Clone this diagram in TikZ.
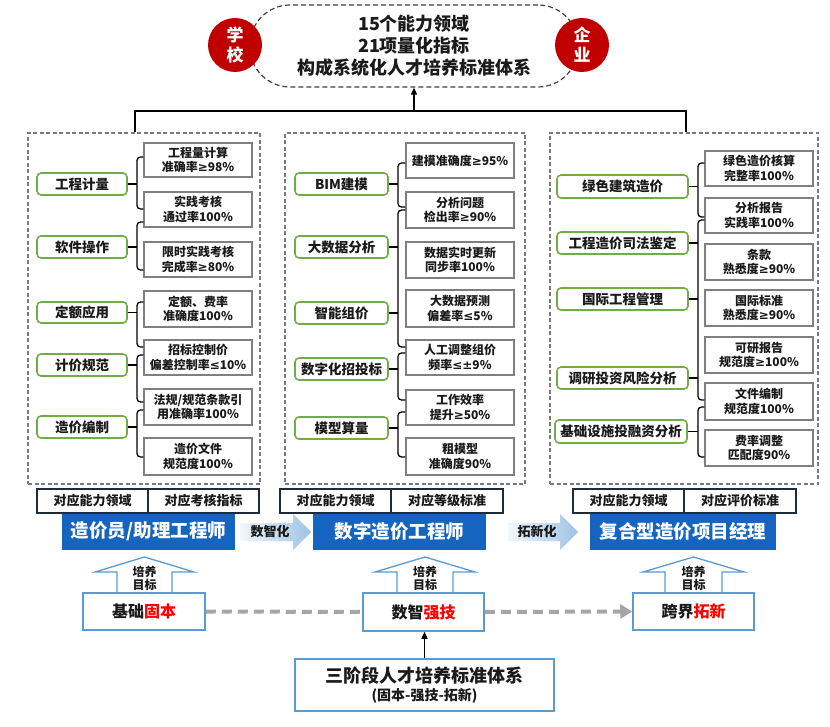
\documentclass[tikz,border=0pt]{standalone}
\usepackage{fontspec}
\setmainfont{Noto Sans CJK SC}
\newfontfamily\symf{DejaVu Sans}
\usetikzlibrary{arrows.meta}
\definecolor{grn}{HTML}{70AD47}
\definecolor{kgray}{HTML}{7F7F7F}
\definecolor{pgray}{HTML}{7A7A7A}
\definecolor{txt}{HTML}{1A1A1A}
\definecolor{navy}{HTML}{1F2A3A}
\definecolor{bblue}{RGB}{21,101,192}
\definecolor{lblue}{HTML}{5B9BD5}
\definecolor{darkred}{HTML}{C00000}
\definecolor{dgray}{HTML}{A6A6A6}
\definecolor{pale}{HTML}{F2F7FC}
\definecolor{sky}{HTML}{9DC3E6}
\newcommand\myfs[2]{\fontsize{#1}{#2}\selectfont}
\newcommand\mkGE{{\symf ≥}}
\newcommand\mkLE{{\symf ≤}}
\newcommand\mkPM{{\symf ±}}
\newcommand\mkbox[7]{\node[#1,minimum width=#5-#3,minimum height=#6-#4] (#2) at ({(#3+#5)/2},{(#4+#6)/2}) {#7};}
\begin{document}
\begin{tikzpicture}[x=1pt,y=-1pt,
  gbox/.style={draw=grn,line width=1.6pt,rounded corners=4pt,fill=white,text=txt,font=\bfseries\myfs{13.5}{16},inner sep=0pt},
  kbox/.style={draw=kgray,line width=1.5pt,fill=white,text=txt,font=\bfseries\myfs{12}{14.5},align=center,inner sep=0pt},
  panel/.style={draw=pgray,line width=1.1pt,dash pattern=on 4pt off 2.5pt},
  br/.style={line width=1.3pt,rounded corners=3.5pt},
  tbox/.style={draw=navy,line width=1.2pt,fill=white,text=txt,font=\bfseries\myfs{13}{15},inner sep=0pt},
  banner/.style={fill=bblue,text=white,font=\bfseries\myfs{18.5}{22},inner sep=0pt},
  sbox/.style={draw=lblue,line width=1.5pt,fill=white,text=txt,font=\bfseries\myfs{16}{19},inner sep=0pt},
  uparrow/.style={draw=lblue,line width=1.3pt,fill=white},
  goallbl/.style={text=txt,font=\bfseries\myfs{12}{13},align=center,inner sep=0pt},
  circ/.style={circle,fill=darkred,text=white,font=\bfseries\myfs{17}{20},align=center,minimum size=54pt,inner sep=0pt},
  gdash/.style={draw=dgray,line width=4pt,dash pattern=on 10pt off 6pt},
  blk/.style={line width=1.3pt,-{Triangle[length=7pt,width=6pt]}}
]
\useasboundingbox (0,0) rectangle (830,727);

% ---- top goal ----
\mkbox{draw=black!75,line width=1.2pt,dash pattern=on 5pt off 3pt,rounded corners=40pt,text=txt,font=\bfseries\myfs{18}{22},align=center,inner sep=0pt}{goal}{250}{5}{578}{87}{15个能力领域\\21项量化指标\\构成系统化人才培养标准体系}
\node[circ] (school) at (235,45) {学\\校};
\node[circ] (firm) at (582,45) {企\\业};

% ---- panels ----
\mkbox{panel}{pL}{28}{133}{260}{484}{}
\mkbox{panel}{pM}{285}{133}{525}{484}{}
\mkbox{panel}{pR}{550}{133}{818}{484}{}

\coordinate (hub) at (goal.south |- 0,111);
\draw[line width=1.3pt] (135,0 |- pL.north) -- (135,111) -- (686,111) -- (686,0 |- pR.north);
\draw[blk] (hub) -- (goal.south);

% ---- left panel ----
\mkbox{gbox}{e1}{37}{173}{127}{195}{工程计量}
\mkbox{gbox}{e2}{37}{236}{127}{258}{软件操作}
\mkbox{gbox}{e3}{37}{302}{127}{323}{定额应用}
\mkbox{gbox}{e4}{37}{354}{127}{376}{计价规范}
\mkbox{gbox}{e5}{37}{416}{127}{438}{造价编制}
\mkbox{kbox}{a1}{144}{143}{252}{177}{工程量计算\\准确率\mkGE98\%}
\mkbox{kbox}{a2}{144}{192}{252}{227}{实践考核\\通过率100\%}
\mkbox{kbox}{a3}{144}{242}{252}{277}{限时实践考核\\完成率\mkGE80\%}
\mkbox{kbox}{a4}{144}{291}{252}{327}{定额、费率\\准确度100\%}
\mkbox{kbox}{a5}{144}{340}{252}{375}{招标控制价\\偏差控制率\mkLE10\%}
\mkbox{kbox}{a6}{144}{389}{252}{425}{法规/规范条款引\\用准确率100\%}
\mkbox{kbox}{a7}{144}{438}{252}{475}{造价文件\\规范度100\%}
\draw[br] (a1.west |- 0,157) -- (137,157) -- (137,209) -- (a2.west |- 0,209);
\draw[br] (e1.east) -- (137,0 |- e1.east);
\draw[br] (a2.west |- 0,222) -- (137,222) -- (137,270) -- (a3.west |- 0,270);
\draw[br] (e2.east) -- (137,0 |- e2.east);
\draw[br] (a4.west |- 0,302) -- (137,302) -- (137,347) -- (a5.west |- 0,347);
\draw[br] (e3.east) -- (137,0 |- e3.east);
\draw[br] (a5.west |- 0,355) -- (137,355) -- (137,402) -- (a6.west |- 0,402);
\draw[br] (e4.east) -- (137,0 |- e4.east);
\draw[br] (a6.west |- 0,410) -- (137,410) -- (137,457) -- (a7.west |- 0,457);
\draw[br] (e5.east) -- (137,0 |- e5.east);

% ---- middle panel ----
\mkbox{gbox}{f1}{295}{173}{388}{195}{BIM建模}
\mkbox{gbox}{f2}{295}{236}{388}{258}{大数据分析}
\mkbox{gbox}{f3}{295}{302}{388}{324}{智能组价}
\mkbox{gbox}{f4}{295}{358}{388}{380}{数字化招投标}
\mkbox{gbox}{f5}{295}{417}{388}{439}{模型算量}
\mkbox{kbox}{b1}{406}{143}{514}{178}{建模准确度\mkGE95\%}
\mkbox{kbox}{b2}{406}{192}{514}{228}{分析问题\\检出率\mkGE90\%}
\mkbox{kbox}{b3}{406}{242}{514}{278}{数据实时更新\\同步率100\%}
\mkbox{kbox}{b4}{406}{290}{514}{327}{大数据预测\\偏差率\mkLE5\%}
\mkbox{kbox}{b5}{406}{340}{514}{375}{人工调整组价\\频率\mkLE\mkPM9\%}
\mkbox{kbox}{b6}{406}{390}{514}{425}{工作效率\\提升\mkGE50\%}
\mkbox{kbox}{b7}{406}{438}{514}{475}{粗模型\\准确度90\%}
\draw[br] (b1.west |- 0,163) -- (398,163) -- (398,207) -- (b2.west |- 0,207);
\draw[br] (f1.east) -- (398,0 |- f1.east);
\draw[br] (b2.west |- 0,210) -- (398,210) -- (398,347) -- (b5.west |- 0,347);
\draw[br] (f2.east) -- (398,0 |- f2.east);
\draw[br] (f3.east) -- (398,0 |- f3.east);
\draw[br] (b5.west |- 0,353) -- (398,353) -- (398,400) -- (b6.west |- 0,400);
\draw[br] (f4.east) -- (398,0 |- f4.east);
\draw[br] (b6.west |- 0,412) -- (398,412) -- (398,457) -- (b7.west |- 0,457);
\draw[br] (f5.east) -- (398,0 |- f5.east);

% ---- right panel ----
\mkbox{gbox}{h1}{557}{175}{688}{198}{绿色建筑造价}
\mkbox{gbox}{h2}{557}{232}{688}{254}{工程造价司法鉴定}
\mkbox{gbox}{h3}{557}{288}{688}{310}{国际工程管理}
\mkbox{gbox}{h4}{557}{367}{688}{389}{调研投资风险分析}
\mkbox{gbox}{h5}{555}{420}{687}{443}{基础设施投融资分析}
\mkbox{kbox}{c1}{705}{151}{813}{186}{绿色造价核算\\完整率100\%}
\mkbox{kbox}{c2}{705}{198}{813}{233}{分析报告\\实践率100\%}
\mkbox{kbox}{c3}{705}{244}{813}{280}{条款\\熟悉度\mkGE90\%}
\mkbox{kbox}{c4}{705}{290}{813}{326}{国际标准\\熟悉度\mkGE90\%}
\mkbox{kbox}{c5}{705}{337}{813}{373}{可研报告\\规范度\mkGE100\%}
\mkbox{kbox}{c6}{705}{383}{813}{420}{文件编制\\规范度100\%}
\mkbox{kbox}{c7}{705}{430}{813}{466}{费率调整\\匹配度90\%}
\draw[br] (c1.west |- 0,163) -- (698,163) -- (698,217) -- (c2.west |- 0,217);
\draw[br] (h1.east) -- (698,0 |- h1.east);
\draw[br] (c2.west |- 0,220) -- (698,220) -- (698,400) -- (c6.west |- 0,400);
\draw[br] (h2.east) -- (698,0 |- h2.east);
\draw[br] (h3.east) -- (698,0 |- h3.east);
\draw[br] (h4.east) -- (698,0 |- h4.east);
\draw[br] (c6.west |- 0,407) -- (698,407) -- (698,457) -- (c7.west |- 0,457);
\draw[br] (h5.east) -- (698,0 |- h5.east);

% ---- banners & tables ----
\mkbox{banner}{n1}{62}{513}{235}{550}{造价员/助理工程师}
\mkbox{banner}{n2}{313}{513}{486}{550}{数字造价工程师}
\mkbox{banner}{n3}{590}{513}{776}{550}{复合型造价项目经理}
\mkbox{tbox}{t1a}{37}{489}{148}{513}{对应能力领域}
\mkbox{tbox}{t1b}{148}{489}{259}{513}{对应考核指标}
\mkbox{tbox}{t2a}{280}{489}{391}{513}{对应能力领域}
\mkbox{tbox}{t2b}{391}{489}{503}{513}{对应等级标准}
\mkbox{tbox}{t3a}{573}{489}{684}{513}{对应能力领域}
\mkbox{tbox}{t3b}{684}{489}{796}{513}{对应评价标准}

% block arrows between banners
\shade[left color=pale,right color=sky] (240,523) -- (293,523) -- (293,514) -- (311,532) -- (293,550) -- (293,541) -- (240,541) -- cycle;
\node[text=txt,font=\bfseries\myfs{13}{15},inner sep=0pt] (lab1) at (270,532) {数智化};
\shade[left color=pale,right color=sky] (508,523) -- (560,523) -- (560,514) -- (578,532) -- (560,550) -- (560,541) -- (508,541) -- cycle;
\node[text=txt,font=\bfseries\myfs{13}{15},inner sep=0pt] (lab2) at (537,532) {拓新化};

% ---- up arrows ----
\draw[uparrow] (117,593) -- (117,572) -- (95,572) -- (144.5,557) -- (194,572) -- (172,572) -- (172,593) -- cycle;
\draw[uparrow] (397,593) -- (397,572) -- (375,572) -- (425,557) -- (475,572) -- (453,572) -- (453,593) -- cycle;
\draw[uparrow] (665,593) -- (665,572) -- (643,572) -- (693.5,557) -- (744,572) -- (722,572) -- (722,593) -- cycle;
\node[goallbl] (g1) at (144.5,578) {培养\\目标};
\node[goallbl] (g2) at (425,578) {培养\\目标};
\node[goallbl] (g3) at (693.5,578) {培养\\目标};

% ---- stage boxes ----
\mkbox{sbox}{s1}{83}{593}{205}{630}{基础\textcolor{red}{固本}}
\mkbox{sbox}{s2}{363}{593}{484}{631}{数智\textcolor{red}{强技}}
\mkbox{sbox}{s3}{633}{593}{754}{630}{跨界\textcolor{red}{拓新}}
\draw[gdash] (s1.east) -- (s2.west);
\draw[gdash,-{Triangle[length=12pt,width=14pt]}] (s2.east) -- (s3.west);

\mkbox{draw=lblue,line width=1.5pt,fill=white,text=txt,align=center,inner sep=0pt}{base}{295}{659}{554}{711}{{\bfseries\myfs{18}{22}三阶段人才培养标准体系}\\[3pt]{\bfseries\myfs{14}{17}(固本-强技-拓新)}}
\draw[blk] (base.north) -- (base.north |- s2.south);
\end{tikzpicture}
\end{document}
